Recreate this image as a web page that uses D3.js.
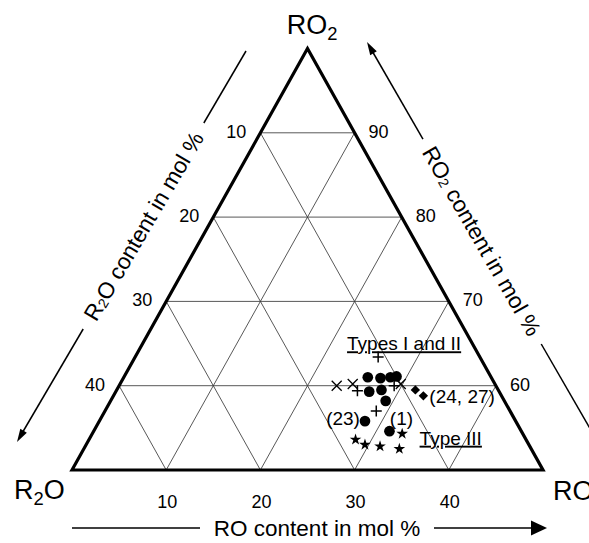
<!DOCTYPE html>
<html>
<head>
<meta charset="utf-8">
<script src="https://cdn.jsdelivr.net/npm/d3@7"></script>
<style>
  html, body { margin: 0; padding: 0; background: #fff; }
  svg { display: block; font-family: "Liberation Sans", Arial, sans-serif; }
</style>
</head>
<body>
<svg id="chart" width="589" height="543"></svg>
<script>
// Glass compositions, each point is [R2O, RO, RO2] in mol %
const r2oTicks = [10, 20, 30, 40];
const roTicks  = [10, 20, 30, 40];
const ro2Ticks = [60, 70, 80, 90];

const circleGlasses = [
  [13.1, 25.9, 61.0],
  [11.8, 27.3, 60.9],
  [10.7, 28.3, 61.0],
  [10.0, 28.9, 61.1],
  [13.8, 26.9, 59.3],
  [12.4, 28.1, 59.5],
  [12.6, 29.2, 58.2],
  [16.0, 28.2, 55.8],   // (23)
  [14.0, 31.4, 54.6]    // (1)
];
const plusGlasses = [
  [10.8, 25.8, 63.4],
  [15.0, 25.6, 59.4],
  [10.8, 29.2, 60.0],
  [14.2, 28.8, 57.0]
];
const crossGlasses = [
  [16.9, 23.1, 60.0],
  [15.1, 24.7, 60.2],
  [10.0, 29.8, 60.2]
];
const diamondGlasses = [
  [8.8, 31.7, 59.5],    // (24)
  [8.3, 32.9, 58.8]     // (27)
];
const starGlasses = [
  [18.1, 28.3, 53.6],
  [17.4, 29.6, 53.0],
  [15.9, 31.3, 52.8],
  [14.0, 33.5, 52.5],
  [12.8, 32.9, 54.3]
];

const pointLabels = [
  { text: "(23)",     at: circleGlasses[7],  dx: -5,  dy: -3, anchor: "end" },
  { text: "(1)",      at: circleGlasses[8],  dx: 12,  dy: -13, anchor: "middle" },
  { text: "(24, 27)", at: diamondGlasses[1], dx: 6,   dy: 1,  anchor: "start" }
];
const groupLabels = [
  { text: "Types I and II", at: [13.7, 22.1, 64.2] },
  { text: "Type III",       at: [11.6, 35.4, 53.0] }
];

const svg = d3.select("#chart");

// Horizontal position follows RO − R2O, vertical position follows RO2
const x = d3.scaleLinear().domain([-50, 50]).range([72, 543]);
const y = d3.scaleLinear().domain([50, 100]).range([470, 48.5]);
const proj = d => [x(d[1] - d[0]), y(d[2])];
const line = d3.line();

// Grid lines
const grid = [];
ro2Ticks.forEach(v => grid.push([[100 - v, 0, v], [0, 100 - v, v]]));
roTicks.forEach(b => grid.push([[50 - b, b, 50], [0, b, 100 - b]]));
r2oTicks.forEach(a => grid.push([[a, 50 - a, 50], [a, 0, 100 - a]]));

svg.append("g")
  .selectAll("path")
  .data(grid)
  .join("path")
  .attr("d", d => line(d.map(proj)))
  .attr("fill", "none")
  .attr("stroke", "#3a3a3a")
  .attr("stroke-width", 0.85);

// Triangle frame
const frame = [[50, 0, 50], [0, 0, 100], [0, 50, 50]];
svg.append("path")
  .attr("d", line(frame.map(proj)) + "Z")
  .attr("fill", "none")
  .attr("stroke", "#000")
  .attr("stroke-width", 3.2)
  .attr("stroke-linejoin", "miter");

// Tick labels
const tickFont = 18;
svg.append("g").selectAll("text")
  .data(r2oTicks).join("text")
  .attr("x", a => proj([a, 0, 100 - a])[0] - 14)
  .attr("y", a => proj([a, 0, 100 - a])[1] - 1)
  .attr("text-anchor", "end")
  .attr("dominant-baseline", "central")
  .attr("font-size", tickFont)
  .text(d => d);

svg.append("g").selectAll("text")
  .data(ro2Ticks).join("text")
  .attr("x", v => proj([0, 100 - v, v])[0] + 14)
  .attr("y", v => proj([0, 100 - v, v])[1] - 1)
  .attr("text-anchor", "start")
  .attr("dominant-baseline", "central")
  .attr("font-size", tickFont)
  .text(d => d);

svg.append("g").selectAll("text")
  .data(roTicks).join("text")
  .attr("x", b => proj([50 - b, b, 50])[0] + 1)
  .attr("y", 508)
  .attr("text-anchor", "middle")
  .attr("font-size", tickFont)
  .text(d => d);

// Corner labels with subscripts
function subText(sel, parts, size) {
  parts.forEach(p => {
    if (p.sub) {
      sel.append("tspan").attr("font-size", size * 0.68).attr("dy", size * 0.22).text(p.t);
    } else if (p.after) {
      sel.append("tspan").attr("dy", -size * 0.22).text(p.t);
    } else {
      sel.append("tspan").text(p.t);
    }
  });
}
const cornerSize = 27;
subText(svg.append("text").attr("x", 312).attr("y", 34).attr("text-anchor", "middle").attr("font-size", cornerSize),
  [{ t: "RO" }, { t: "2", sub: true }], cornerSize);
subText(svg.append("text").attr("x", 14).attr("y", 499).attr("font-size", cornerSize),
  [{ t: "R" }, { t: "2", sub: true }, { t: "O", after: true }], cornerSize);
svg.append("text").attr("x", 553).attr("y", 500).attr("font-size", cornerSize).text("RO");

// Axis arrows
function arrowHead(tip, from, len, halfW) {
  const dx = tip[0] - from[0], dy = tip[1] - from[1];
  const l = Math.hypot(dx, dy), ux = dx / l, uy = dy / l;
  const bx = tip[0] - ux * len, by = tip[1] - uy * len;
  return [tip, [bx - uy * halfW, by + ux * halfW], [bx + uy * halfW, by - ux * halfW]];
}
const arrows = svg.append("g").attr("stroke", "#000").attr("stroke-width", 1.5).attr("fill", "#000");
const titleSize = 22.5;

// R2O axis (left, pointing down)
{
  const top = [246, 51], tip = [17, 442];
  const at = yy => [top[0] + (yy - top[1]) * (tip[0] - top[0]) / (tip[1] - top[1]), yy];
  arrows.append("path").attr("d", line([top, at(123)]));
  arrows.append("path").attr("d", line([at(329), [tip[0] + 4, tip[1] - 7]]));
  arrows.append("path").attr("stroke", "none").attr("d", line(arrowHead(tip, top, 13, 3.8)) + "Z");
  const c = at(226);
  const ang = Math.atan2(tip[1] - top[1], tip[0] - top[0]) * 180 / Math.PI + 180;
  const t = svg.append("text")
    .attr("transform", `translate(${c[0]},${c[1]}) rotate(${ang})`)
    .attr("text-anchor", "middle").attr("dominant-baseline", "central")
    .attr("font-size", titleSize);
  t.append("tspan").text("R");
  t.append("tspan").attr("font-size", titleSize * 0.62).attr("dy", 4).text("2");
  t.append("tspan").attr("dy", -4).text("O content in mol %");
}

// RO2 axis (right, pointing up)
{
  const tip = [367, 42], end = [592, 432];
  const at = yy => [tip[0] + (yy - tip[1]) * (end[0] - tip[0]) / (end[1] - tip[1]), yy];
  arrows.append("path").attr("d", line([[tip[0] + 4, tip[1] + 7], at(139)]));
  arrows.append("path").attr("d", line([at(344), end]));
  arrows.append("path").attr("stroke", "none").attr("d", line(arrowHead(tip, end, 13, 3.8)) + "Z");
  const c = at(241);
  const ang = Math.atan2(end[1] - tip[1], end[0] - tip[0]) * 180 / Math.PI;
  const t = svg.append("text")
    .attr("transform", `translate(${c[0]},${c[1]}) rotate(${ang})`)
    .attr("text-anchor", "middle").attr("dominant-baseline", "central")
    .attr("font-size", titleSize);
  t.append("tspan").text("RO");
  t.append("tspan").attr("font-size", titleSize * 0.62).attr("dy", 4).text("2");
  t.append("tspan").attr("dy", -4).text(" content in mol %");
}

// RO axis (bottom, pointing right)
{
  const yy = 528;
  arrows.append("path").attr("d", line([[72, yy], [200, yy]]));
  arrows.append("path").attr("d", line([[434, yy], [532, yy]]));
  arrows.append("path").attr("stroke", "none").attr("d", line(arrowHead([547, yy], [434, yy], 16, 7.5)) + "Z");
  svg.append("text").attr("x", 317).attr("y", yy)
    .attr("text-anchor", "middle").attr("dominant-baseline", "central")
    .attr("font-size", titleSize).text("RO content in mol %");
}

// Data markers
const marks = svg.append("g");
marks.selectAll(".circ").data(circleGlasses).join("path")
  .attr("transform", d => `translate(${proj(d)})`)
  .attr("d", d3.symbol(d3.symbolCircle, 90)())
  .attr("fill", "#000");

marks.selectAll(".plus").data(plusGlasses).join("path")
  .attr("transform", d => `translate(${proj(d)})`)
  .attr("d", "M-5.5,0H5.5M0,-5.5V5.5")
  .attr("stroke", "#000").attr("stroke-width", 1.5).attr("fill", "none");

marks.selectAll(".cross").data(crossGlasses).join("path")
  .attr("transform", d => `translate(${proj(d)})`)
  .attr("d", "M-5,-5L5,5M-5,5L5,-5")
  .attr("stroke", "#000").attr("stroke-width", 1.3).attr("fill", "none");

marks.selectAll(".dia").data(diamondGlasses).join("path")
  .attr("transform", d => `translate(${proj(d)}) rotate(45)`)
  .attr("d", d3.symbol(d3.symbolSquare, 44)())
  .attr("fill", "#000");

marks.selectAll(".star").data(starGlasses).join("path")
  .attr("transform", d => `translate(${proj(d)})`)
  .attr("d", d3.symbol(d3.symbolStar, 42)())
  .attr("fill", "#000");

// Annotations
const noteSize = 19;
svg.append("g").selectAll("text").data(pointLabels).join("text")
  .attr("x", d => proj(d.at)[0] + d.dx)
  .attr("y", d => proj(d.at)[1] + d.dy)
  .attr("text-anchor", d => d.anchor)
  .attr("dominant-baseline", "central")
  .attr("font-size", noteSize)
  .text(d => d.text);

svg.append("g").selectAll("text").data(groupLabels).join("text")
  .attr("x", d => proj(d.at)[0])
  .attr("y", d => proj(d.at)[1])
  .attr("font-size", noteSize)
  .style("text-decoration", "underline")
  .text(d => d.text);
</script>
</body>
</html>
